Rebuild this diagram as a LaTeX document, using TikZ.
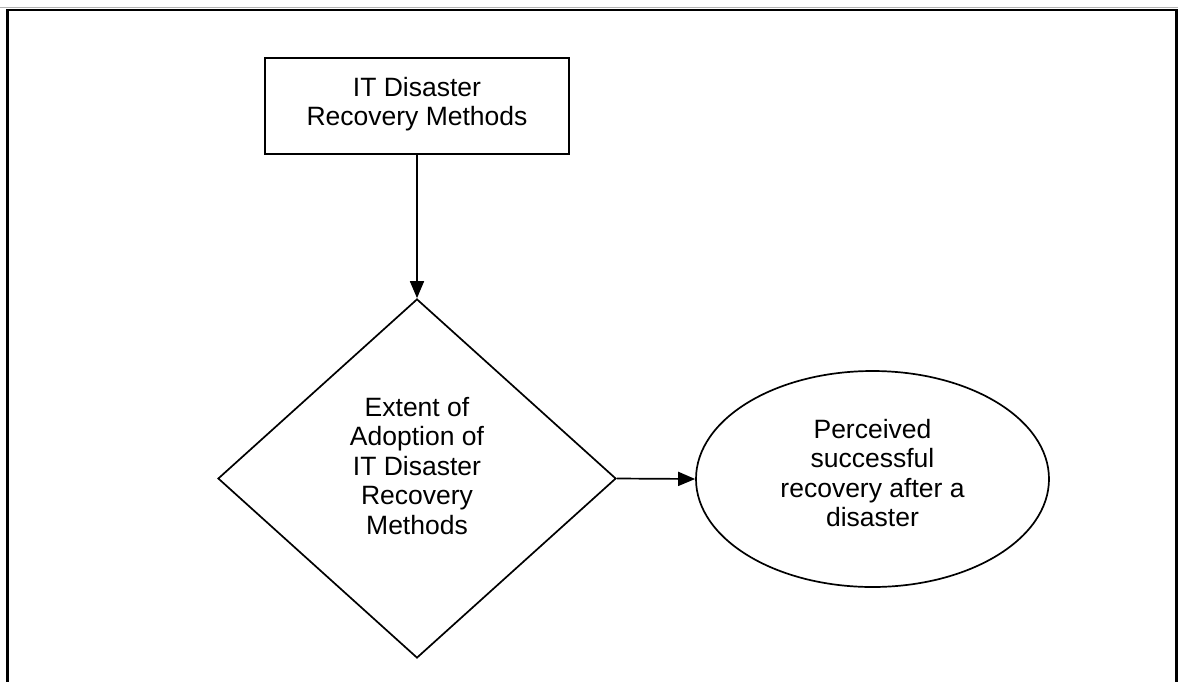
\documentclass[tikz,border=0pt]{standalone}
\usepackage{fontspec}
\setmainfont{Liberation Sans}
\usetikzlibrary{shapes.geometric,arrows.meta}
\begin{document}
\begin{tikzpicture}[x=1pt,y=-1pt,
  shapeline/.style={draw=black,line width=1.7pt},
  lbl/.style={align=center,font=\fontsize{26.5}{29.5}\selectfont,inner sep=0pt},
  conn/.style={draw=black,line width=1.7pt,-{Triangle[length=17pt,width=14pt]}}]
\useasboundingbox (0,0) rectangle (1178,681);
% page frame
\draw[gray!60,line width=1.2pt] (0,7.5) -- (1178,7.5);
\draw[black,line width=2.2pt] (7.5,690) -- (7.5,10) -- (1176.5,10) -- (1176.5,690);
% nodes
\node[shapeline,rectangle,minimum width=304pt,minimum height=96pt,inner sep=0pt] (box) at (417,106) {};
\node[lbl] (boxt) at (417,104) {IT Disaster\\Recovery Methods};
\node[shapeline,diamond,minimum width=398pt,minimum height=359pt,inner sep=0pt] (dia) at (417,478.5) {};
\node[lbl] (diat) at (417,466) {Extent of\\Adoption of\\IT Disaster\\Recovery\\Methods};
\node[shapeline,ellipse,minimum width=353pt,minimum height=216pt,inner sep=0pt] (ell) at (872.5,479) {};
\node[lbl] (ellt) at (872.5,473) {Perceived\\successful\\recovery after a\\disaster};
% connectors
\draw[conn] (box.south) -- (dia.north);
\draw[conn] (dia.east) -- (ell.west);
\end{tikzpicture}
\end{document}
